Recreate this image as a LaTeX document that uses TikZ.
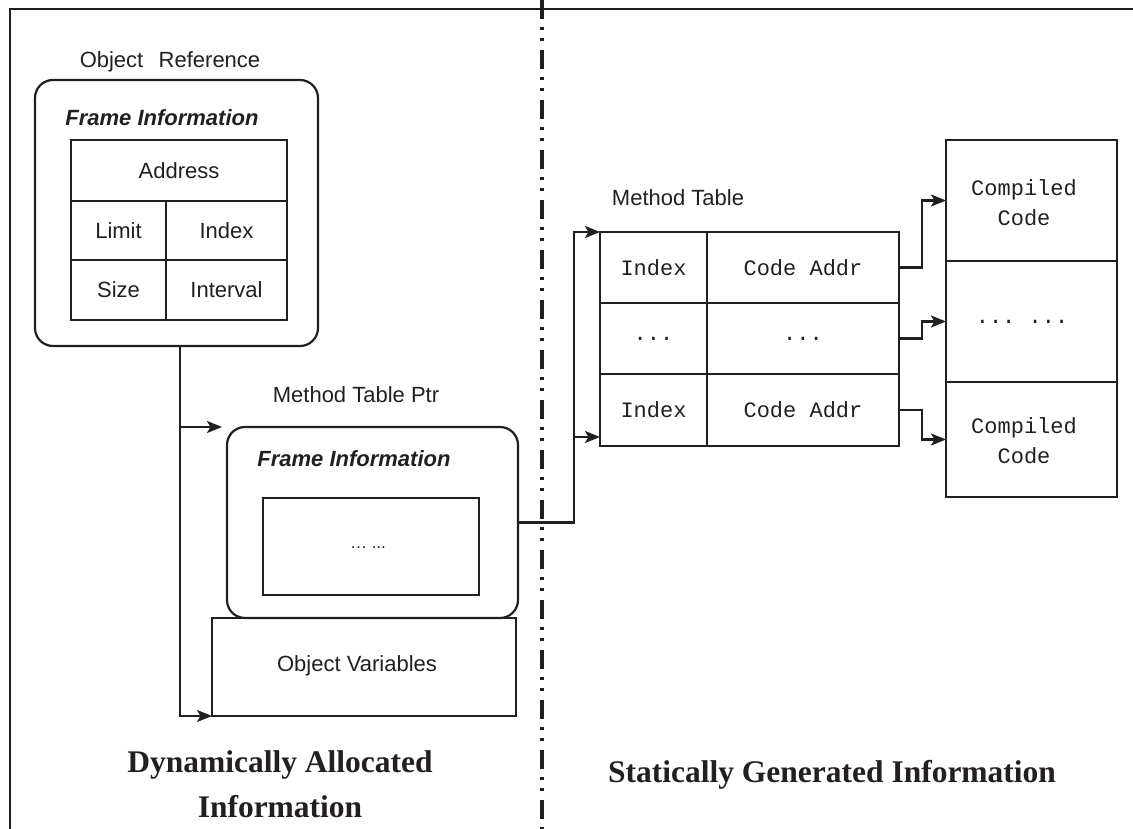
\documentclass[tikz,border=0pt]{standalone}
\usepackage{fontspec}
\setmainfont{Liberation Serif}
\setsansfont{Liberation Sans}
\setmonofont{Liberation Mono}
\usetikzlibrary{arrows.meta}
\definecolor{ink}{HTML}{231F20}
\begin{document}
\begin{tikzpicture}[x=1pt,y=-1pt,
  every node/.style={text=ink, inner sep=0pt, outer sep=0pt},
  lbl/.style={font=\sffamily\fontsize{22}{26}\selectfont},
  frm/.style={font=\sffamily\bfseries\itshape\fontsize{22}{26}\selectfont},
  code/.style={font=\ttfamily\fontsize{22}{30}\selectfont, align=center},
  head/.style={font=\rmfamily\bfseries\fontsize{31.5}{45}\selectfont, align=center},
  box/.style={draw=ink, line width=2.2pt},
  rbox/.style={box, rounded corners=18pt},
  cell/.style={box, lbl},
  mcell/.style={box, code},
  wire/.style={draw=ink, line width=2.2pt},
  link/.style={wire, -{Stealth[length=15pt,width=12pt,inset=3.5pt]}}
]
\useasboundingbox (0,0) rectangle (1133,829);

% outer frame and the dash-dot-dot divider
\draw[wire] (10,829) -- (10,9) -- (1133,9);
\draw[draw=ink, line width=3.8pt,
      dash pattern=on 19pt off 8pt on 3pt off 8pt on 3pt off 9pt] (542,0) -- (542,829);

% ---- object reference with its frame information
\node[lbl] (objlbl) at (170,62) {Object\hspace{0.7em}Reference};
\node[rbox, minimum width=283pt, minimum height=266pt] (objref) at (176.5,213) {};
\node[frm] (frm1) at (162,118) {Frame Information};
\node[cell, minimum width=216pt, minimum height=61pt] (addr) at (179,170.5) {Address};
\node[cell, minimum width=95pt, minimum height=59pt] (limit) at (118.5,230.5) {Limit};
\node[cell, minimum width=121pt, minimum height=59pt] (index) at (226.5,230.5) {Index};
\node[cell, minimum width=95pt, minimum height=60pt] (size) at (118.5,290) {Size};
\node[cell, minimum width=121pt, minimum height=60pt] (interval) at (226.5,290) {Interval};

% ---- method table pointer frame and object variables
\node[lbl] (mtplbl) at (356,395) {Method Table Ptr};
\node[rbox, minimum width=291pt, minimum height=191pt] (mtp) at (372.5,522.5) {};
\node[frm] (frm2) at (354,459) {Frame Information};
\node[box, minimum width=216pt, minimum height=97pt] (inner) at (371,546.5) {};
\node[font=\sffamily\fontsize{17}{20}\selectfont] (innertxt) at (368,548) {… ...};
\node[box, minimum width=304pt, minimum height=98pt] (ov) at (364,667) {};
\node[lbl] (ovtxt) at (357,666) {Object Variables};

% ---- method table
\node[lbl] (mtlbl) at (678,198) {Method Table};
\node[mcell, minimum width=107pt, minimum height=71pt] (t11) at (653.5,267.5) {Index};
\node[mcell, minimum width=192pt, minimum height=71pt] (t12) at (803,267.5) {Code Addr};
\node[mcell, minimum width=107pt, minimum height=71pt] (t21) at (653.5,338.5) {...};
\node[mcell, minimum width=192pt, minimum height=71pt] (t22) at (803,338.5) {...};
\node[mcell, minimum width=107pt, minimum height=72pt] (t31) at (653.5,410) {Index};
\node[mcell, minimum width=192pt, minimum height=72pt] (t32) at (803,410) {Code Addr};

% ---- compiled code column
\node[box, minimum width=171pt, minimum height=121pt] (cc1) at (1031.5,200.5) {};
\node[box, minimum width=171pt, minimum height=121pt] (cc2) at (1031.5,321.5) {};
\node[box, minimum width=171pt, minimum height=115pt] (cc3) at (1031.5,439.5) {};
\node[code] (cc1txt) at (1024,203) {Compiled\\Code};
\node[code] (cc2txt) at (1022,322) {... ...};
\node[code] (cc3txt) at (1024,441) {Compiled\\Code};

% ---- section headings
\node[head] (dyn) at (280,784) {Dynamically Allocated\\Information};
\node[head] (stat) at (832,775) {Statically Generated Information};

% ---- connectors
\draw[link] ([xshift=3.5pt]objref.south) |- ([xshift=-5pt]mtp.north west);
\draw[link] ([xshift=3.5pt]objref.south) |- (ov.south west);
\coordinate (jn) at ([xshift=56pt]mtp.east);
\draw[link] (mtp.east) -- (jn) |- (t11.north west);
\draw[link] (jn) |- ([yshift=9pt]t31.south west);
\draw[link] (t12.east) -- ++(23,0) |- (cc1.west);
\draw[link] (t22.east) -- ++(23,0) |- (cc2.west);
\draw[link] (t32.east) -- ++(23,0) |- (cc3.west);
\end{tikzpicture}
\end{document}
